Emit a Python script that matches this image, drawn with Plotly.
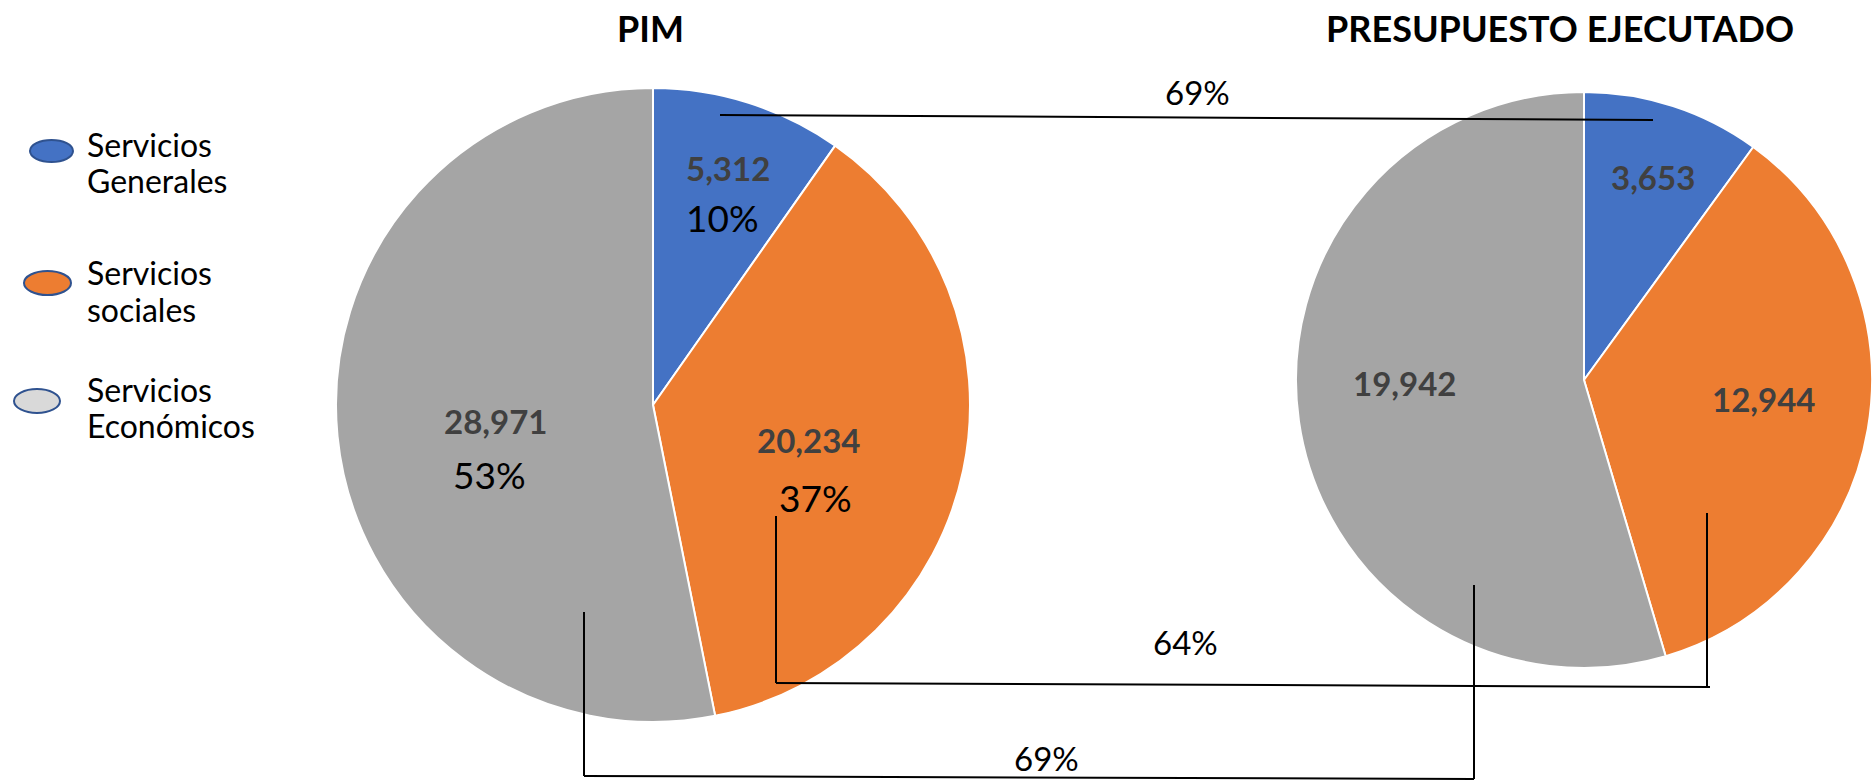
import plotly.graph_objects as go

# ---------------- data ----------------
categories = ["Servicios Generales", "Servicios sociales", "Servicios Económicos"]
pim_values = [5312, 20234, 28971]
executed_values = [3653, 12944, 19942]
chart_titles = ["PIM", "PRESUPUESTO EJECUTADO"]

# ---------------- styles / layout constants ----------------
W, H = 1872, 781
slice_colors = ["#4472C4", "#ED7D31", "#A5A5A5"]
legend_fill = ["#4472C4", "#ED7D31", "#D9D9D9"]
legend_line = "#2F528F"
FONT = "Lato"
VALUE_COLOR = "#404040"

PIM_C, PIM_R = (653, 405), 317
EXE_C, EXE_R = (1584, 380), 288


def px(x):
    return x / W


def py(y):
    return 1 - y / H


def domain(c, r):
    return dict(x=[px(c[0] - r), px(c[0] + r)], y=[py(c[1] + r), py(c[1] - r)])


fig = go.Figure()
fig.add_trace(go.Pie(
    labels=categories, values=pim_values, domain=domain(PIM_C, PIM_R),
    sort=False, direction="clockwise", rotation=0,
    marker=dict(colors=slice_colors, line=dict(color="white", width=2)),
    textinfo="none", showlegend=False, hoverinfo="label+value+percent",
))
fig.add_trace(go.Pie(
    labels=categories, values=executed_values, domain=domain(EXE_C, EXE_R),
    sort=False, direction="clockwise", rotation=0,
    marker=dict(colors=slice_colors, line=dict(color="white", width=2)),
    textinfo="none", showlegend=False, hoverinfo="label+value+percent",
))

ann = []
shapes = []


def text(x, y, s, size, color="#000000", bold=False, xanchor="center"):
    ann.append(dict(
        x=px(x), y=py(y), xref="paper", yref="paper", showarrow=False,
        text=f"<b>{s}</b>" if bold else s, xanchor=xanchor, yanchor="middle",
        font=dict(family=FONT, size=size, color=color),
    ))


# titles
text(650, 28, chart_titles[0], 36, bold=True)
text(1560, 28, chart_titles[1], 36, bold=True)

# slice labels
pim_total = sum(pim_values)
pim_pct = [round(v / pim_total * 100) for v in pim_values]
pim_val_pos = [(728, 168), (808, 440), (495, 421)]
pim_pct_pos = [(722, 217), (815, 497), (489, 474)]
for i, v in enumerate(pim_values):
    text(*pim_val_pos[i], f"{v:,}", 33, VALUE_COLOR, bold=True)
    text(*pim_pct_pos[i], f"{pim_pct[i]}%", 37)

exe_val_pos = [(1653, 177), (1763, 399), (1404, 383)]
for i, v in enumerate(executed_values):
    text(*exe_val_pos[i], f"{v:,}", 33, VALUE_COLOR, bold=True)

# execution ratio connectors
ratios = [round(e / p * 100) for e, p in zip(executed_values, pim_values)]


def seg(x0, y0, x1, y1):
    shapes.append(dict(type="line", xref="paper", yref="paper",
                       x0=px(x0), y0=py(y0), x1=px(x1), y1=py(y1),
                       line=dict(color="#000000", width=2)))


# Servicios Generales
seg(720, 115, 1653, 120)
text(1197, 92, f"{ratios[0]}%", 33)
# Servicios sociales
seg(776, 516, 776, 683)
seg(776, 683, 1710, 687)
seg(1707, 687, 1707, 513)
text(1185, 642, f"{ratios[1]}%", 33)
# Servicios Económicos
seg(584, 612, 584, 776)
seg(584, 776, 1474, 779)
seg(1474, 779, 1474, 585)
text(1046, 758, f"{ratios[2]}%", 33)

# custom legend
leg_ellipses = [(30, 140, 73, 162), (24, 271, 71, 295), (14, 389, 60, 413)]
leg_lines_y = [(144, 180), (273, 309), (389, 425)]
for i, cat in enumerate(categories):
    x0, y0, x1, y1 = leg_ellipses[i]
    shapes.append(dict(type="circle", xref="paper", yref="paper",
                       x0=px(x0), y0=py(y1), x1=px(x1), y1=py(y0),
                       fillcolor=legend_fill[i], line=dict(color=legend_line, width=2)))
    first, second = cat.split(" ", 1)
    text(85, leg_lines_y[i][0], first, 32, "#000000", xanchor="left")
    text(85, leg_lines_y[i][1], second, 32, "#000000", xanchor="left")

fig.update_layout(
    width=W, height=H, margin=dict(l=0, r=0, t=0, b=0),
    paper_bgcolor="white", plot_bgcolor="white",
    annotations=ann, shapes=shapes, showlegend=False,
    font=dict(family=FONT),
)
fig.write_html(
    "out.html",
    config={"displayModeBar": False},
    post_script="document.body.style.margin='0';document.body.style.overflow='hidden';",
)
